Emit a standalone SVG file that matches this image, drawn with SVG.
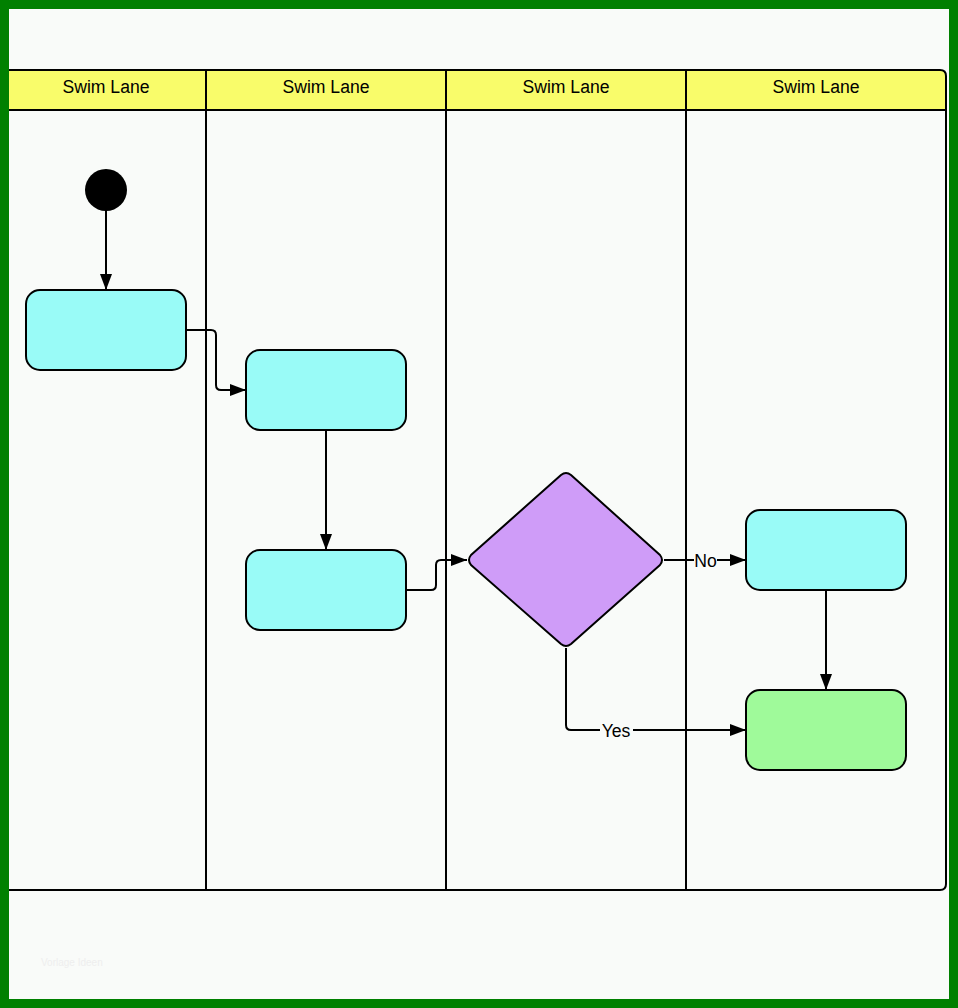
<svg xmlns="http://www.w3.org/2000/svg" width="958" height="1008" viewBox="0 0 958 1008">
<defs>
<style>
.lane{fill:none;stroke:#000;stroke-width:2}
.hdr{fill:#f9fc6a;stroke:#000;stroke-width:2}
.lbl{font-family:"Liberation Sans",Arial,sans-serif;font-size:17.6px;fill:#000;text-anchor:middle}
.act{fill:#99fbf7;stroke:#000;stroke-width:2}
.end{fill:#9ffa9a;stroke:#000;stroke-width:2}
.dec{fill:#cf9cf8;stroke:#000;stroke-width:2;stroke-linejoin:round}
.con{fill:none;stroke:#000;stroke-width:2}
.clbl{font-family:"Liberation Sans",Arial,sans-serif;font-size:17.6px;fill:#000;text-anchor:middle}
</style>
<marker id="arr" viewBox="0 0 16 12" refX="16" refY="6" markerWidth="16" markerHeight="12" markerUnits="userSpaceOnUse" orient="auto">
<path d="M0,0 L16,6 L0,12 Z" fill="#000"/>
</marker>
</defs>
<rect x="0" y="0" width="958" height="1008" fill="#f9fbf9"/>
<g id="pool">
<path class="hdr" d="M1,70 H940 Q946,70 946,76 V110 H1 Z"/>
<path class="lane" d="M1,110 H946 V884 Q946,890 940,890 H1"/>
<line class="lane" x1="206" y1="70" x2="206" y2="890"/>
<line class="lane" x1="446" y1="70" x2="446" y2="890"/>
<line class="lane" x1="686" y1="70" x2="686" y2="890"/>
<text class="lbl" x="106" y="93">Swim Lane</text>
<text class="lbl" x="326" y="93">Swim Lane</text>
<text class="lbl" x="566" y="93">Swim Lane</text>
<text class="lbl" x="816" y="93">Swim Lane</text>
</g>
<g id="connectors">
<line class="con" x1="106" y1="210" x2="106" y2="290" marker-end="url(#arr)"/>
<path class="con" d="M186,330 H211 Q216,330 216,335 V385 Q216,390 221,390 H246" marker-end="url(#arr)"/>
<line class="con" x1="326" y1="430" x2="326" y2="550" marker-end="url(#arr)"/>
<path class="con" d="M406,590 H431 Q436,590 436,585 V565 Q436,560 441,560 H467" marker-end="url(#arr)"/>
<path class="con" d="M664,560 H694 M717,560 H746" marker-end="url(#arr)"/>
<path class="con" d="M566,648 V725 Q566,730 571,730 H600 M633,730 H746" marker-end="url(#arr)"/>
<line class="con" x1="826" y1="590" x2="826" y2="690" marker-end="url(#arr)"/>
<text class="clbl" x="705.5" y="566.5">No</text>
<text class="clbl" x="616" y="737">Yes</text>
</g>
<g id="start"><circle cx="106" cy="190" r="21" fill="#000"/></g>
<g id="act1"><rect class="act" x="26" y="290" width="160" height="80" rx="14"/></g>
<g id="act2"><rect class="act" x="246" y="350" width="160" height="80" rx="14"/></g>
<g id="act3"><rect class="act" x="246" y="550" width="160" height="80" rx="14"/></g>
<g id="decision"><path class="dec" d="M561,475 Q566,471 571,475 L660,555 Q664,560 660,565 L571,644 Q566,648 561,644 L471,565 Q467,560 471,555 Z"/></g>
<g id="act4"><rect class="act" x="746" y="510" width="160" height="80" rx="14"/></g>
<g id="final"><rect class="end" x="746" y="690" width="160" height="80" rx="14"/></g>
<text x="41" y="966" font-family="Liberation Sans,Arial,sans-serif" font-size="10" fill="#eeeeee">Vorlage Ideen</text>
<rect x="4.5" y="4.5" width="949" height="999" fill="none" stroke="#008000" stroke-width="9"/>
</svg>
